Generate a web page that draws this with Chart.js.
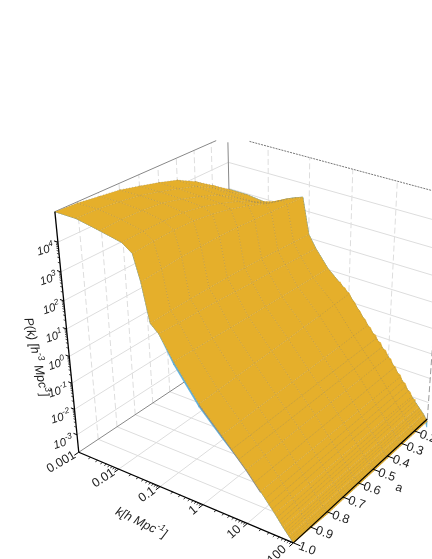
<!DOCTYPE html>
<html lang="en">
  <head>
    <meta charset="UTF-8">
    <title>P(k) surface</title>
    <script src="https://cdn.jsdelivr.net/npm/chart.js"></script>
    <style>
      body {
        margin: 0;
        background: #fff;
      }
      canvas {
        display: block;
      }
    </style>
  </head>
  <body>
    <canvas id="surfaceChart" width="432" height="559"></canvas>
    <script>
      // k grid of the surface, h/Mpc
      const kValues = [0.001, 0.003, 0.01, 0.03, 0.05, 0.07, 0.1, 0.15, 0.3, 1, 3, 10, 20, 40, 60, 80, 100];
      const aValues = [1.0, 0.9, 0.8, 0.7, 0.6, 0.5, 0.4, 0.3, 0.2, 0.1];

      // log10 P(k), one list per scale factor
      const logP_a10 = [5, 5, 4.85, 4.7, 4.45, 3.6, 2.3, 2.04, 1.26, 0.08, -0.74, -1.66, -2.26, -2.87, -3.26, -3.51, -3.7];
      const logP_a09 = [4.96, 4.98, 4.88, 4.72, 4.5, 3.65, 2.32, 2, 1.22, 0.1, -0.74, -1.66, -2.27, -2.88, -3.27, -3.52, -3.75];
      const logP_a08 = [4.87, 4.9, 4.85, 4.72, 4.52, 3.7, 2.33, 1.98, 1.2, 0.12, -0.73, -1.67, -2.28, -2.89, -3.28, -3.52, -3.8];
      const logP_a07 = [4.78, 4.8, 4.78, 4.68, 4.5, 3.7, 2.33, 1.95, 1.17, 0.15, -0.73, -1.67, -2.29, -2.9, -3.28, -3.53, -3.8];
      const logP_a06 = [4.61, 4.62, 4.6, 4.55, 4.4, 3.7, 2.32, 1.9, 1.14, 0.17, -0.72, -1.67, -2.3, -2.91, -3.29, -3.53, -3.8];
      const logP_a05 = [4.43, 4.42, 4.38, 4.35, 4.25, 3.68, 2.3, 1.85, 1.12, 0.19, -0.72, -1.68, -2.31, -2.92, -3.29, -3.53, -3.8];
      const logP_a04 = [4.22, 4.2, 4.12, 4.1, 4.05, 3.62, 2.27, 1.82, 1.1, 0.22, -0.71, -1.68, -2.32, -2.93, -3.3, -3.54, -3.8];
      const logP_a03 = [3.87, 3.83, 3.72, 3.75, 3.8, 3.58, 2.23, 1.77, 1.08, 0.24, -0.71, -1.69, -2.33, -2.94, -3.3, -3.54, -3.8];
      const logP_a02 = [3.43, 3.37, 3.25, 3.45, 3.6, 3.52, 2.18, 1.72, 1.06, 0.27, -0.7, -1.69, -2.34, -2.96, -3.31, -3.55, -3.8];
      const logP_a01 = [2.97, 2.96, 2.86, 3.26, 3.4, 3.48, 2.14, 1.68, 1.05, 0.3, -0.7, -1.7, -2.36, -3, -3.33, -3.56, -3.8];
      const goldRows = [logP_a10, logP_a09, logP_a08, logP_a07, logP_a06, logP_a05, logP_a04, logP_a03, logP_a02, logP_a01];

      // the jagged far edge of the a = 0.1 row
      const edgeK = [0.6, 0.7, 0.8, 0.9, 1, 1.2, 1.4, 1.6, 1.9, 2.2, 2.6, 3, 3.5, 4, 4.7, 5.4, 6.3, 7.2, 8.4, 10, 11.5, 13, 15, 17, 20, 23, 27, 31, 36, 42, 50];
      const edgeLogP = [0.68, 0.5, 0.5, 0.35, 0.36, 0.11, 0.05, -0.15, -0.23, -0.44, -0.5, -0.72, -0.75, -0.96, -0.98, -1.21, -1.22, -1.45, -1.46, -1.72, -1.74, -1.97, -2, -2.22, -2.26, -2.51, -2.54, -2.79, -2.82, -3.07, -3.08];

      // fine mesh columns at the high k end
      const fineK = [5, 7, 15, 25, 30, 35, 45, 50, 55, 65, 70, 75, 85, 90, 95];
      const fineLogP = [-1.1, -1.37, -2, -2.45, -2.6, -2.74, -2.98, -3.08, -3.17, -3.33, -3.4, -3.46, -3.56, -3.61, -3.66];

      // the second (blue) surface only shows along two edges
      const blueFront = [5, 5, 4.85, 4.7, 4.45, 3.6, 2.3, 2.04, 1.14, -0.04, -0.84, -1.66, -2.26, -2.87, -3.26, -3.51, -3.7];
      const blueBack = [2.97, 2.96, 2.86, 3.26, 3.4, 3.48, 2.14, 1.68, 1.05, 0.3, -0.7, -1.7, -2.36, -3, -3.33, -3.56, -4.05];

      const kTicks = [0.001, 0.01, 0.1, 1, 10, 100];
      const kTickLabels = ['0.001', '0.01', '0.1', '1', '10', '100'];
      const kMinorSteps = [2, 3, 4, 5, 6, 7, 8, 9];
      const aTicks = [1.0, 0.9, 0.8, 0.7, 0.6, 0.5, 0.4, 0.3, 0.2];
      const aTickLabels = ['1.0', '0.9', '0.8', '0.7', '0.6', '0.5', '0.4', '0.3', '0.2'];
      const logPTicks = [-3, -2, -1, 0, 1, 2, 3, 4];
      const logPTickLabels = ['-3', '-2', '-1', '0', '1', '2', '3', '4'];

      const kRange = [-3, 2];
      const aRange = [1.0, 0.1];
      const logPRange = [-3.7, 5];

      const GOLD = '#e5af2b';
      const BLUE = '#5eaed8';
      const GRID = '#dddddd';
      const MESH = 'rgba(125,125,115,0.5)';

      // box corners in unit coordinates and where they land on the page
      const camera = [
        [0, 0, 0, 79, 450], [1, 0, 0, 293, 545], [1, 1, 0, 428, 416], [0, 1, 0, 232, 353],
        [0, 0, 1, 55, 212], [0, 1, 1, 228, 134], [1, 1, 1, 443, 195]
      ];

      function solve(A, b) {
        const n = b.length;
        const M = A.map((row, i) => row.concat(b[i]));
        for (let i = 0; i < n; i++) {
          let p = i;
          for (let r = i + 1; r < n; r++) if (Math.abs(M[r][i]) > Math.abs(M[p][i])) p = r;
          [M[i], M[p]] = [M[p], M[i]];
          for (let r = 0; r < n; r++) {
            if (r === i) continue;
            const f = M[r][i] / M[i][i];
            for (let c = i; c <= n; c++) M[r][c] -= f * M[i][c];
          }
        }
        return M.map((row, i) => row[n] / row[i]);
      }

      function fitCamera() {
        const rows = [];
        const rhs = [];
        camera.forEach(([u, v, w, x, y]) => {
          rows.push([u, v, w, 1, 0, 0, 0, 0, -x * u, -x * v, -x * w]);
          rhs.push(x);
          rows.push([0, 0, 0, 0, u, v, w, 1, -y * u, -y * v, -y * w]);
          rhs.push(y);
        });
        const AtA = [];
        const Atb = [];
        for (let i = 0; i < 11; i++) {
          AtA.push([]);
          for (let j = 0; j < 11; j++) AtA[i].push(rows.reduce((s, r) => s + r[i] * r[j], 0));
          Atb.push(rows.reduce((s, r, q) => s + r[i] * rhs[q], 0));
        }
        return solve(AtA, Atb);
      }

      const H = fitCamera();

      function projectUnit(u, v, w) {
        const d = H[8] * u + H[9] * v + H[10] * w + 1;
        return {
          x: (H[0] * u + H[1] * v + H[2] * w + H[3]) / d,
          y: (H[4] * u + H[5] * v + H[6] * w + H[7]) / d
        };
      }

      const toU = k => (Math.log10(k) - kRange[0]) / (kRange[1] - kRange[0]);
      const toV = a => (a - aRange[0]) / (aRange[1] - aRange[0]);
      const toW = logP => (logP - logPRange[0]) / (logPRange[1] - logPRange[0]);
      const point = (k, a, logP) => projectUnit(toU(k), toV(a), toW(logP));

      const datasets = []; // pushed back to front, reversed at the end

      function addLine(data, color, width, dash) {
        datasets.push({
          data, showLine: true, pointRadius: 0, fill: false,
          borderColor: color, borderWidth: width, borderDash: dash || []
        });
      }

      function addPolygon(data, color, edge) {
        datasets.push({
          data, showLine: true, pointRadius: 0, fill: 'shape',
          backgroundColor: color, borderColor: edge || color, borderWidth: 0.6
        });
      }

      // walls and floor
      const kMin = kTicks[0];
      const kMax = kTicks[kTicks.length - 1];
      const aFront = aRange[0];
      const aBack = aRange[1];
      const pLow = logPRange[0];
      const pTop = logPRange[1];

      logPTicks.forEach(p => {
        addLine([point(kMin, aFront, p), point(kMin, aBack, p), point(kMax, aBack, p)], GRID, 1);
      });
      kTicks.slice(1, 5).forEach(k => {
        addLine([point(k, aBack, pLow), point(k, aBack, pTop)], GRID, 1, [6, 3]);
        addLine([point(k, aFront, pLow), point(k, aBack, pLow)], GRID, 1);
      });
      aTicks.slice(1).forEach(a => {
        addLine([point(kMin, a, pLow), point(kMin, a, pTop)], GRID, 1, [6, 3]);
        addLine([point(kMin, a, pLow), point(kMax, a, pLow)], GRID, 1);
      });
      addLine([point(kMin, aFront, pLow), point(kMin, aBack, pLow)], '#888888', 1);
      addLine([point(kMin, aFront, pTop), point(kMin, 0.17, pTop)], '#888888', 1);
      addLine([point(0.0035, aBack, pTop), point(kMax, aBack, pTop)], '#777777', 1, [2, 1]);
      addLine([point(kMin, aBack, pTop - 0.25), point(kMin, aBack, 1)], '#888888', 1);
      addLine([point(kMax, aBack, pLow), point(kMax, aBack, pTop)], '#999999', 1, [6, 3]);

      // blue edges sit under the gold surface
      for (let i = 0; i < kValues.length - 1; i++) {
        const k0 = kValues[i];
        const k1 = kValues[i + 1];
        addPolygon([point(k0, 1, logP_a10[i]), point(k1, 1, logP_a10[i + 1]), point(k1, 1, blueFront[i + 1]), point(k0, 1, blueFront[i])], BLUE);
        addPolygon([point(k0, 0.1, logP_a01[i]), point(k1, 0.1, logP_a01[i + 1]), point(k1, 0.1, blueBack[i + 1]), point(k0, 0.1, blueBack[i])], BLUE);
      }
      addLine([1, 3, 10, 20].map(k => point(k, 1, logP_a10[kValues.indexOf(k)] - 0.03)), '#858c90', 1.2);

      // teeth along the far edge, closed through the inside of the surface
      addPolygon(edgeK.map((k, i) => point(k, 0.1, edgeLogP[i]))
        .concat([point(edgeK[edgeK.length - 1], 0.3, edgeLogP[edgeK.length - 1]), point(edgeK[0], 0.3, edgeLogP[0])]), GOLD);

      // gold surface, far rows first
      for (let r = aValues.length - 2; r >= 0; r--) {
        for (let i = 0; i < kValues.length - 1; i++) {
          addPolygon([
            point(kValues[i], aValues[r], goldRows[r][i]),
            point(kValues[i + 1], aValues[r], goldRows[r][i + 1]),
            point(kValues[i + 1], aValues[r + 1], goldRows[r + 1][i + 1]),
            point(kValues[i], aValues[r + 1], goldRows[r + 1][i])
          ], GOLD);
        }
      }

      // mesh lines on the surface
      aValues.forEach((a, r) => {
        addLine(kValues.map((k, i) => point(k, a, goldRows[r][i])), MESH, 0.8, [1, 2]);
      });
      kValues.forEach((k, i) => {
        addLine(aValues.map((a, r) => point(k, a, goldRows[r][i])), MESH, 0.8, [1, 2]);
      });
      fineK.forEach((k, i) => {
        addLine([point(k, aFront, fineLogP[i]), point(k, aBack, fineLogP[i])], MESH, 0.7, [1, 1]);
      });

      // axes and tick marks
      addLine([point(kMin, aFront, pLow), point(kMin, aFront, pTop)], '#000', 1.3);
      addLine([point(kMin, aFront, pLow), point(kMax, aFront, pLow)], '#000', 1.3);
      addLine([point(kMax, aFront, pLow), point(kMax, aBack, pLow)], '#000', 1.3);

      kTicks.forEach((k, d) => {
        addLine([projectUnit(toU(k), -0.025, 0), projectUnit(toU(k), 0, 0)], '#000', 1);
        if (d === kTicks.length - 1) return;
        kMinorSteps.forEach(s => {
          addLine([projectUnit(toU(k * s), -0.013, 0), projectUnit(toU(k * s), 0, 0)], '#000', 0.8);
        });
      });
      aTicks.forEach(a => {
        addLine([projectUnit(1, toV(a), 0), projectUnit(1.03, toV(a), 0)], '#000', 1);
      });
      logPTicks.forEach(p => {
        addLine([projectUnit(0, 0, toW(p)), projectUnit(-0.018, 0, toW(p))], '#000', 1);
        if (p === 4) return;
        kMinorSteps.forEach(s => {
          addLine([projectUnit(0, 0, toW(p + Math.log10(s))), projectUnit(-0.01, 0, toW(p + Math.log10(s)))], '#000', 0.7);
        });
      });

      // parts: [text, isSuperscript]; align 0 = left, 1 = right, 0.5 = centre
      function drawRich(ctx, x, y, angle, parts, size, italic, align) {
        const main = `${italic ? 'italic ' : ''}${size}px "Liberation Sans", Arial, sans-serif`;
        const sup = `${italic ? 'italic ' : ''}${size * 0.72}px "Liberation Sans", Arial, sans-serif`;
        ctx.save();
        ctx.translate(x, y);
        ctx.rotate(angle * Math.PI / 180);
        ctx.fillStyle = '#222';
        ctx.textBaseline = 'middle';
        ctx.textAlign = 'left';
        let total = 0;
        parts.forEach(([t, up]) => {
          ctx.font = up ? sup : main;
          total += ctx.measureText(t).width;
        });
        let cursor = -total * align;
        parts.forEach(([t, up]) => {
          ctx.font = up ? sup : main;
          ctx.fillText(t, cursor, up ? -size * 0.38 : 0);
          cursor += ctx.measureText(t).width;
        });
        ctx.restore();
      }

      const axisText = {
        id: 'axisText',
        afterDatasetsDraw(chart) {
          const ctx = chart.ctx;
          const sx = chart.scales.x;
          const sy = chart.scales.y;
          const at = (p, dx, dy) => [sx.getPixelForValue(p.x) + dx, sy.getPixelForValue(p.y) + dy];

          kTicks.forEach((k, i) => {
            const [x, y] = at(point(k, aFront, pLow), -4 - i, 2 + i * 0.5);
            drawRich(ctx, x, y, -30 - i * 3, [[kTickLabels[i], false]], 12.5, false, 1);
          });
          aTicks.forEach((a, i) => {
            const [x, y] = at(point(kMax, a, pLow), 5.5, 3);
            drawRich(ctx, x, y, 20, [[aTickLabels[i], false]], 12.5, false, 0);
          });
          logPTicks.forEach((p, i) => {
            const [x, y] = at(point(kMin, aFront, p), -4, 5);
            drawRich(ctx, x, y, -18, [['10', false], [logPTickLabels[i], true]], 11.5, true, 1);
          });
          drawRich(ctx, 141, 523, 26, [['k[h Mpc', false], ['-1', true], [']', false]], 12.5, true, 0.5);
          drawRich(ctx, 36, 357, 78, [['P(k) [h', false], ['-3', true], [' Mpc', false], ['3', true], [']', false]], 12.5, true, 0.5);
          drawRich(ctx, 399, 488, 20, [['a', false]], 12, false, 0.5);
        }
      };

      new Chart(document.getElementById('surfaceChart').getContext('2d'), {
        type: 'scatter',
        data: { datasets: datasets.reverse() }, // Chart.js paints the first dataset last
        options: {
          responsive: false,
          animation: false,
          layout: { padding: 0 },
          plugins: { legend: { display: false }, tooltip: { enabled: false } },
          scales: {
            x: { type: 'linear', min: 0, max: 432, display: false },
            y: { type: 'linear', min: 0, max: 559, reverse: true, display: false }
          }
        },
        plugins: [axisText]
      });
    </script>
  </body>
</html>
